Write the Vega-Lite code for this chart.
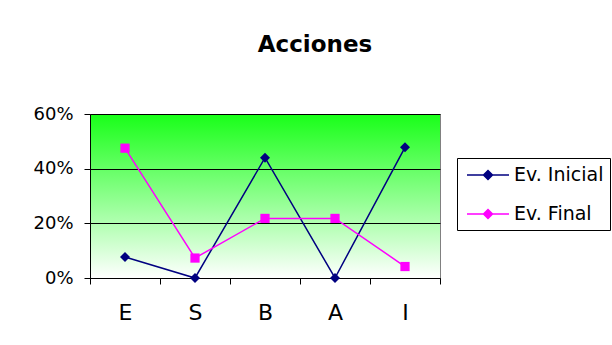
{
  "$schema": "https://vega.github.io/schema/vega-lite/v6.json",
  "autosize": "none",
  "width": 350,
  "height": 164,
  "padding": {"left": 90, "top": 114, "right": 172, "bottom": 67},
  "background": "white",
  "title": {
    "text": "Acciones",
    "font": "DejaVu Sans",
    "fontSize": 23,
    "fontWeight": "bold",
    "color": "black",
    "frame": "group",
    "anchor": "middle",
    "dx": 50,
    "baseline": "alphabetic",
    "offset": 30
  },
  "data": {
    "values": [
      {"cat": "E", "serie": "Ev. Inicial", "value": 0.077},
      {"cat": "S", "serie": "Ev. Inicial", "value": 0.0},
      {"cat": "B", "serie": "Ev. Inicial", "value": 0.44},
      {"cat": "A", "serie": "Ev. Inicial", "value": 0.0},
      {"cat": "I", "serie": "Ev. Inicial", "value": 0.478},
      {"cat": "E", "serie": "Ev. Final", "value": 0.475},
      {"cat": "S", "serie": "Ev. Final", "value": 0.073},
      {"cat": "B", "serie": "Ev. Final", "value": 0.218},
      {"cat": "A", "serie": "Ev. Final", "value": 0.218},
      {"cat": "I", "serie": "Ev. Final", "value": 0.042}
    ]
  },
  "encoding": {
    "x": {
      "field": "cat",
      "type": "nominal",
      "sort": ["E", "S", "B", "A", "I"],
      "scale": {"type": "band", "paddingInner": 0, "paddingOuter": 0},
      "axis": {
        "title": null,
        "labelAngle": 0,
        "tickBand": "extent",
        "domainColor": "black",
        "tickColor": "black",
        "tickSize": 6,
        "labelPadding": 18,
        "labelFont": "DejaVu Sans",
        "labelFontSize": 22,
        "labelColor": "black",
        "grid": false
      }
    },
    "y": {
      "field": "value",
      "type": "quantitative",
      "scale": {"domain": [0, 0.6], "nice": false},
      "axis": {
        "title": null,
        "values": [0, 0.2, 0.4, 0.6],
        "format": ".0%",
        "grid": true,
        "gridColor": "black",
        "gridOpacity": 1,
        "gridWidth": 1,
        "domainColor": "black",
        "tickColor": "black",
        "tickSize": 6,
        "labelPadding": 11,
        "labelFont": "DejaVu Sans",
        "labelFontSize": 18,
        "labelColor": "black"
      }
    }
  },
  "layer": [
    {
      "mark": {"type": "line", "strokeWidth": 1.5},
      "encoding": {
        "color": {
          "field": "serie",
          "type": "nominal",
          "scale": {"domain": ["Ev. Inicial", "Ev. Final"], "range": ["#000080", "#ff00ff"]},
          "legend": {
            "title": null,
            "orient": "none",
            "legendX": 367,
            "legendY": 44,
            "padding": 6,
            "strokeColor": "black",
            "fillColor": "white",
            "labelFont": "DejaVu Sans",
            "labelFontSize": 19,
            "labelColor": "black",
            "symbolType": "M-2.1,0H2.1M0,-0.45L0.45,0L0,0.45L-0.45,0ZM0,-0.32L0.32,0L0,0.32L-0.32,0ZM0,-0.19L0.19,0L0,0.19L-0.19,0ZM0,-0.07L0.07,0L0,0.07L-0.07,0Z",
            "symbolSize": 400,
            "symbolOffset": 14,
            "labelOffset": 15,
            "rowPadding": 18,
            "symbolStrokeWidth": 1.5,
            "symbolOpacity": 1
          }
        }
      }
    },
    {
      "transform": [{"filter": "datum.serie === 'Ev. Inicial'"}],
      "mark": {"type": "point", "shape": "diamond", "filled": true, "size": 100, "opacity": 1},
      "encoding": {
        "color": {
          "field": "serie",
          "type": "nominal",
          "scale": {"domain": ["Ev. Inicial", "Ev. Final"], "range": ["#000080", "#ff00ff"]},
          "legend": null
        }
      }
    },
    {
      "transform": [{"filter": "datum.serie === 'Ev. Final'"}],
      "mark": {"type": "point", "shape": "square", "filled": true, "size": 85, "opacity": 1},
      "encoding": {
        "color": {
          "field": "serie",
          "type": "nominal",
          "scale": {"domain": ["Ev. Inicial", "Ev. Final"], "range": ["#000080", "#ff00ff"]},
          "legend": null
        }
      }
    }
  ],
  "config": {
    "font": "DejaVu Sans",
    "view": {
      "stroke": "#808080",
      "strokeWidth": 1,
      "fill": {
        "gradient": "linear",
        "x1": 0, "y1": 0, "x2": 0, "y2": 1,
        "stops": [
          {"offset": 0, "color": "#19ff19"},
          {"offset": 1, "color": "#ffffff"}
        ]
      }
    }
  }
}
